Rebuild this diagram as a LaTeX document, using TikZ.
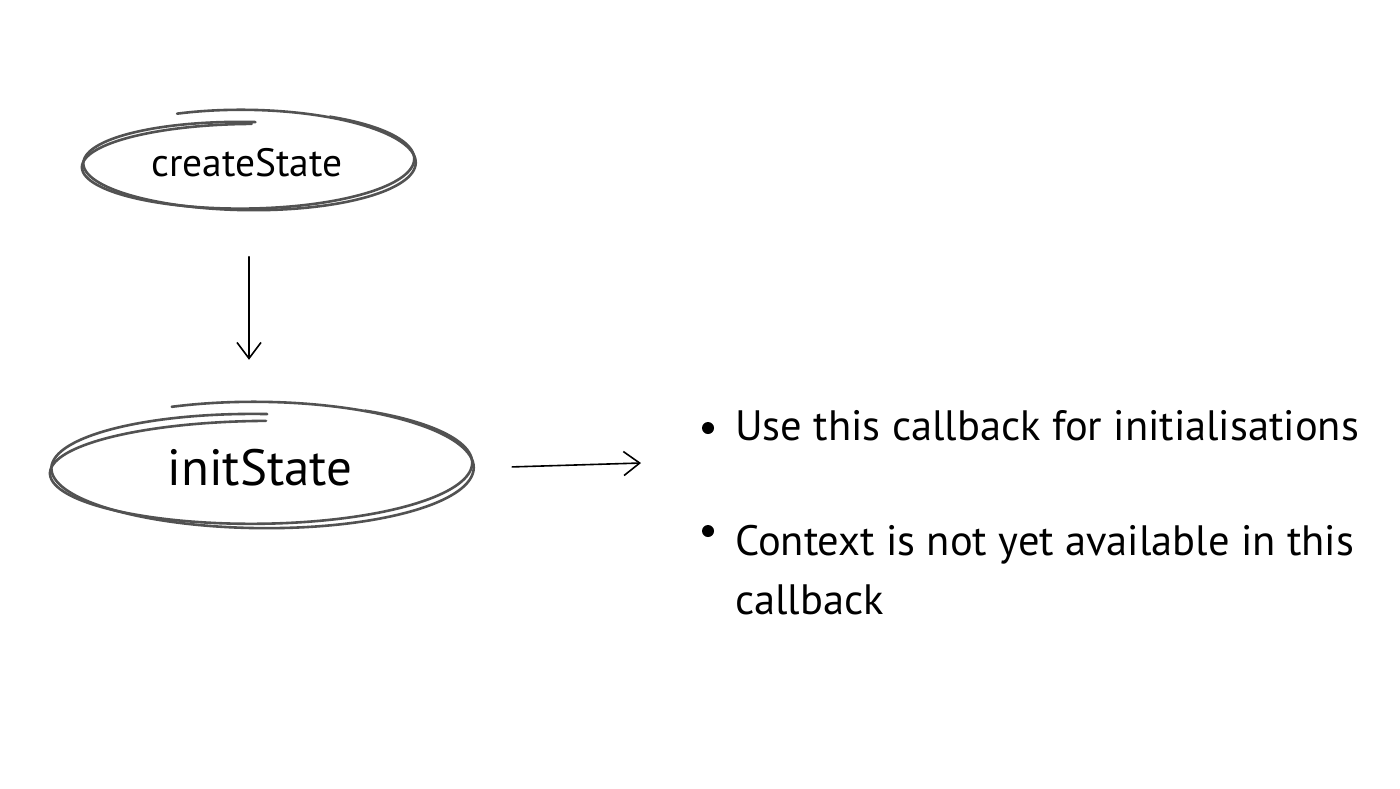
\documentclass[tikz,border=0pt]{standalone}
\usepackage{fontspec}
\setmainfont{PT Sans}
\usetikzlibrary{arrows.meta,shapes.geometric}
\newcommand\sketchloop[6]{%
  \draw[sketch] plot[domain=#1:#2, samples=140, smooth, variable=\t]
    ({(#3+(#5-#3)*(\t-#1)/(#2-#1))*cos(\t)},{(#4+(#6-#4)*(\t-#1)/(#2-#1))*sin(\t)});}
\begin{document}
\begin{tikzpicture}[x=1pt,y=-1pt,
  sketch/.style={draw=black!68, line width=2.6pt, line cap=round, line join=round},
  statenode/.style={shape=ellipse, draw=none, inner sep=0pt},
  flow/.style={draw=black, line width=1.6pt, line cap=round, -{Straight Barb[length=16pt,width=24pt,line width=1.6pt]}},
  bullettext/.style={anchor=base west, inner sep=0pt, font=\fontsize{42.5}{50}\selectfont},
  dot/.style={shape=circle, fill=black, inner sep=0pt, minimum size=12pt}]
\useasboundingbox (0,0) rectangle (1400,788);
\fill[white] (0,0) rectangle (1400,788);
% nodes
\node[statenode, minimum width=342pt, minimum height=107pt, font=\fontsize{39.5}{46}\selectfont] (cs) at (247,163) {createState};
\node[statenode, minimum width=432pt, minimum height=134pt, font=\fontsize{51}{60}\selectfont] (is) at (260,468) {initState};
% sketchy outlines
\begin{scope}[shift={(cs.center)}]
  \sketchloop{-114}{273}{172}{54}{161}{41}
  \begin{scope}[rotate=1.5]\sketchloop{-60}{272}{168}{51}{164}{39}\end{scope}
\end{scope}
\begin{scope}[shift={(is.center)}]
  \sketchloop{-114}{272}{217}{67}{206}{54}
  \begin{scope}[rotate=1.5]\sketchloop{-60}{272}{213}{63}{209}{47}\end{scope}
\end{scope}
% bullets
\node[dot] (b1) at (708,428) {};
\node[dot] (b2) at (708,531) {};
\node[bullettext] (t1) at (735,440) {Use this callback for initialisations};
\node[bullettext] (t2) at (735,555) {Context is not yet available in this};
\node[bullettext] (t3) at (735,614) {callback};
\coordinate (aend) at (641,463);
% connectors
\draw[flow] ([xshift=2pt,yshift=-40pt]cs.south) -- ([xshift=-11pt,yshift=41pt]is.north);
\draw[flow, shorten <=36pt] (is.east) -- (aend);
\end{tikzpicture}
\end{document}
